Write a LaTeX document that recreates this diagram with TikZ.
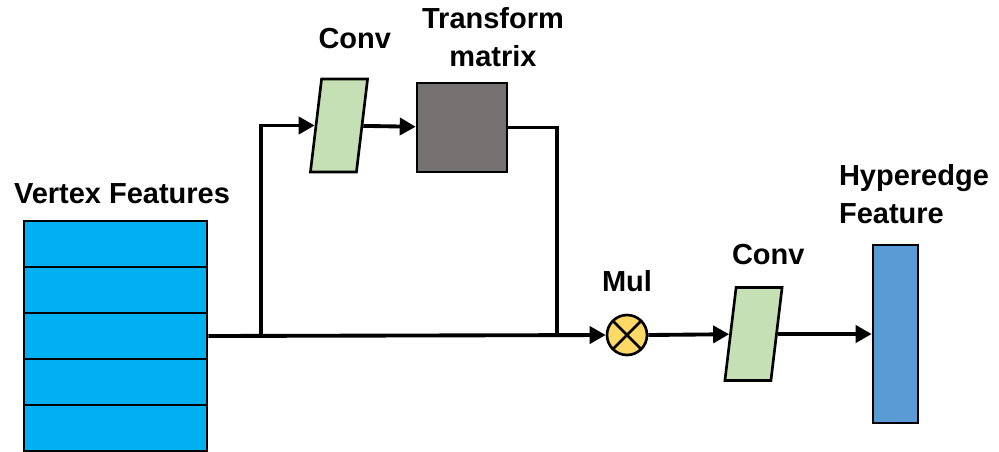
\documentclass[tikz,border=0pt]{standalone}
\usepackage{fontspec}
\setmainfont{Liberation Sans}
\usetikzlibrary{positioning,shapes.geometric,arrows.meta,calc}
\definecolor{vertex}{HTML}{00B0F0}
\definecolor{convc}{HTML}{C5E0B4}
\definecolor{transc}{HTML}{767171}
\definecolor{mulc}{HTML}{FFD966}
\definecolor{hedge}{HTML}{5B9BD5}

\tikzset{
  lbl/.style={font=\bfseries\fontsize{16.5}{21.6}\selectfont,align=center,inner sep=0pt},
  row/.style={draw,line width=1.5pt,fill=vertex,minimum width=3.66cm,minimum height=0.92cm,inner sep=0pt},
  convbox/.style={draw,line width=1.5pt,fill=convc,xslant=0.12,transform shape,minimum width=0.92cm,minimum height=1.86cm,inner sep=0pt},
  wire/.style={line width=2.2pt},
  arr/.style={wire,-{Triangle[length=3.2mm,width=3.4mm]}}
}

\begin{document}
\begin{tikzpicture}[x=0.02cm,y=-0.02cm]
  \useasboundingbox (0,0) rectangle (999,451);
  % vertex feature stack
  \foreach \i in {1,...,5}
    \node[row] (v\i) at (115.5,{221+46*\i-23}) {};
  \node[lbl,above=0.32cm of v1,xshift=0.13cm] (vlbl) {Vertex Features};

  % upper branch
  \node[convbox] (conv1) at (339,125.5) {};
  \node[lbl,above=0.58cm of conv1,xshift=0.2cm] (conv1lbl) {Conv};
  \node[draw,line width=1.5pt,fill=transc,minimum width=1.8cm,minimum height=1.78cm,inner sep=0pt] (tm) at (462,127.5) {};
  \node[lbl,above=0.3cm of tm,xshift=0.62cm] (tmlbl) {Transform\\matrix};

  % multiply and output
  \node[circle,draw,line width=1.5pt,fill=mulc,minimum size=0.8cm,inner sep=0pt,
        path picture={\draw[line width=1.5pt] (path picture bounding box.north west) -- (path picture bounding box.south east)
                      (path picture bounding box.north east) -- (path picture bounding box.south west);}] (mul) at (627,335) {};
  \node[lbl,above=0.44cm of mul] (mullbl) {Mul};
  \node[convbox] (conv2) at (753.5,334) {};
  \node[lbl,above=0.43cm of conv2,xshift=0.18cm] (conv2lbl) {Conv};
  \node[draw,line width=1.5pt,fill=hedge,minimum width=0.9cm,minimum height=3.56cm,inner sep=0pt] (he) at (895.5,334) {};
  \node[lbl,align=left,above right=0.4cm and -0.66cm of he.north west] (helbl) {Hyperedge\\Feature};

  \coordinate (br) at (261,335);
  \coordinate (jn) at (557,335);

  \draw[arr] (v3.east) -- (mul.west);
  \draw[arr] (br) |- (conv1);
  \draw[arr] (conv1) -- (tm);
  \draw[wire] (tm.east) -| (jn);
  \draw[arr] (mul.east) -- (conv2);
  \draw[arr] (conv2) -- (he);
\end{tikzpicture}
\end{document}
